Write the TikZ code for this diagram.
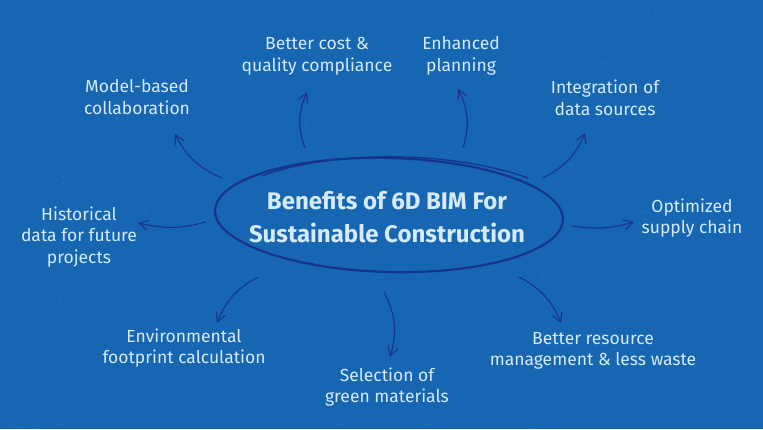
\documentclass[tikz,border=0pt]{standalone}
\usepackage{fontspec}
\setmainfont{Fira Sans}
\usetikzlibrary{arrows.meta,shapes.geometric}
\definecolor{bgblue}{RGB}{22,102,178}
\definecolor{ink}{RGB}{22,52,138}
\definecolor{chalk}{RGB}{214,234,250}
\tikzset{
  lbl/.style={text=chalk, align=center, font=\fontsize{17.5}{21.5}\selectfont, inner sep=0pt},
  conn/.style={draw=ink, line width=1.1pt, -{Straight Barb[length=9pt,width=10pt,line width=1.1pt]}},
}
\begin{document}
\begin{tikzpicture}[x=1pt,y=-1pt]
\fill[bgblue] (0,0) rectangle (763,429);
\useasboundingbox (0,0) rectangle (763,429);
% speckles
\foreach \i in {1,...,500}{
  \pgfmathsetmacro{\px}{rnd*763}\pgfmathsetmacro{\py}{rnd*429}
  \fill[white,opacity=0.12] (\px,\py) circle (0.7);
}
% central ellipse
\node[draw=ink, line width=2.2pt, ellipse, minimum width=348, minimum height=114, rotate=-1.5] (c) at (389,215) {};
\draw[ink, line width=1.3pt] (262,176) .. controls (330,150) and (450,150) .. (528,178);
\node[text=chalk, align=center, font=\bfseries\fontsize{24}{33}\selectfont] (t) at (387,217) {Benefits of 6D BIM For\\Sustainable Construction};
% labels
\node[lbl] (cost) at (317,56) {Better cost \&\\quality compliance};
\node[lbl] (plan) at (461,56) {Enhanced\\planning};
\node[lbl] (model) at (137,97) {Model-based\\collaboration};
\node[lbl] (integ) at (605,98) {Integration of\\data sources};
\node[lbl] (hist) at (79,237) {Historical\\data for future\\projects};
\node[lbl] (supply) at (692,218) {Optimized\\supply chain};
\node[lbl] (env) at (184,348) {Environmental\\footprint calculation};
\node[lbl] (res) at (593,351) {Better resource\\management \& less waste};
\node[lbl] (green) at (387,387) {Selection of\\green materials};
% connector ends
\coordinate (s1) at (222,178); \coordinate (e1) at (175,134);
\coordinate (s2) at (305,148); \coordinate (e2) at (307,92);
\coordinate (s3) at (463,148); \coordinate (e3) at (458,89);
\coordinate (s4) at (543,178); \coordinate (e4) at (585,133);
\coordinate (s5) at (572,226); \coordinate (e5) at (634,222);
\coordinate (s6) at (519,277); \coordinate (e6) at (561,323);
\coordinate (s7) at (384,292); \coordinate (e7) at (390,357);
\coordinate (s8) at (258,277); \coordinate (e8) at (217,323);
\coordinate (s9) at (206,222); \coordinate (e9) at (138,223);
\draw[conn] (s1) to[bend left=20] (e1);
\draw[conn] (s2) to[bend left=22] (e2);
\draw[conn] (s3) to[bend right=22] (e3);
\draw[conn] (s4) to[bend right=20] (e4);
\draw[conn] (s5) to[bend right=12] (e5);
\draw[conn] (s6) to[bend left=20] (e6);
\draw[conn] (s7) to[bend left=22] (e7);
\draw[conn] (s8) to[bend right=20] (e8);
\draw[conn] (s9) to[bend left=14] (e9);
\end{tikzpicture}
\end{document}
